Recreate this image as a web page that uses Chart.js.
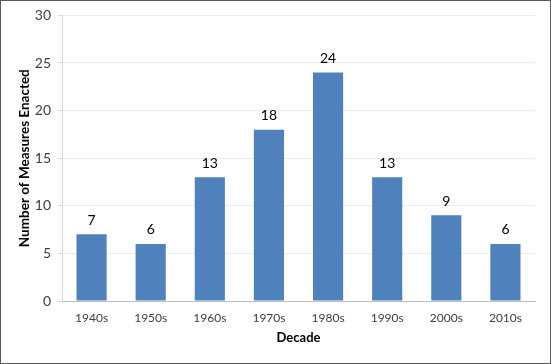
<!DOCTYPE html>
<html>
<head>
<meta charset="utf-8">
<script src="https://cdn.jsdelivr.net/npm/chart.js@4"></script>
<style>
  html, body { margin: 0; padding: 0; background: #fff; }
  #wrap { position: relative; width: 551px; height: 364px; }
</style>
</head>
<body>
<div id="wrap"><canvas id="measuresChart" width="551" height="364"></canvas></div>
<script>
const decades = ["1940s", "1950s", "1960s", "1970s", "1980s", "1990s", "2000s", "2010s"];
const measures = [7, 6, 13, 18, 24, 13, 9, 6];
const yTicks = [0, 5, 10, 15, 20, 25, 30];

const fontFamily = "Lato, 'Open Sans', sans-serif";

const ctx = document.getElementById("measuresChart").getContext("2d");

const measuresChart = new Chart(ctx, {
  type: "bar",
  data: {
    labels: decades,
    datasets: [
      {
        label: "Measures",
        data: measures,
        backgroundColor: "#4f81bd",
        borderWidth: 0,
        barPercentage: 0.51,
        categoryPercentage: 1,
      },
    ],
  },
  options: {
    responsive: false,
    animation: false,
    layout: {
      padding: { left: 0, right: 16, top: 15, bottom: 0 },
    },
    scales: {
      x: {
        grid: { display: false },
        border: { display: true, color: "#bfbfbf", width: 1 },
        ticks: {
          padding: 2,
          color: "#404040",
          font: { family: fontFamily, size: 12 },
          maxRotation: 0,
        },
        title: {
          display: true,
          text: "Decade",
          color: "#000",
          font: { family: fontFamily, size: 13, weight: "bold" },
          padding: { top: 0, bottom: 18 },
        },
        afterFit: function (scale) {
          scale.height = 63;
        },
      },
      y: {
        min: 0,
        max: 30,
        afterBuildTicks: function (scale) {
          scale.ticks = yTicks.map(v => ({ value: v }));
        },
        grid: {
          color: "#e6edf5",
          tickColor: "#d9d9d9",
          tickLength: 4,
          drawOnChartArea: true,
        },
        border: { display: true, color: "#d9d9d9", width: 1 },
        ticks: {
          padding: 7,
          color: "#404040",
          font: { family: fontFamily, size: 14 },
        },
        title: {
          display: true,
          text: "Number of Measures Enacted",
          color: "#000",
          font: { family: fontFamily, size: 13.5, weight: "bold" },
          padding: { top: 17, bottom: 0 },
        },
        afterFit: function (scale) {
          scale.width = 62;
        },
      },
    },
    plugins: {
      legend: { display: false },
      tooltip: { enabled: false },
    },
  },
  plugins: [
    {
      id: "barValues",
      afterDatasetsDraw: function (chart) {
        const ctx = chart.ctx;
        const meta = chart.getDatasetMeta(0);
        ctx.save();
        ctx.fillStyle = "#000";
        ctx.font = "14px " + fontFamily;
        ctx.textAlign = "center";
        ctx.textBaseline = "bottom";
        meta.data.forEach((bar, i) => {
          ctx.fillText(String(measures[i]), bar.x, bar.y - 7);
        });
        ctx.restore();
      },
    },
    {
      id: "outerBorder",
      afterDraw: function (chart) {
        const ctx = chart.ctx;
        ctx.save();
        ctx.strokeStyle = "#595959";
        ctx.lineWidth = 1;
        ctx.strokeRect(0.5, 0.5, chart.width - 1, chart.height - 1);
        ctx.restore();
      },
    },
  ],
});
</script>
</body>
</html>
